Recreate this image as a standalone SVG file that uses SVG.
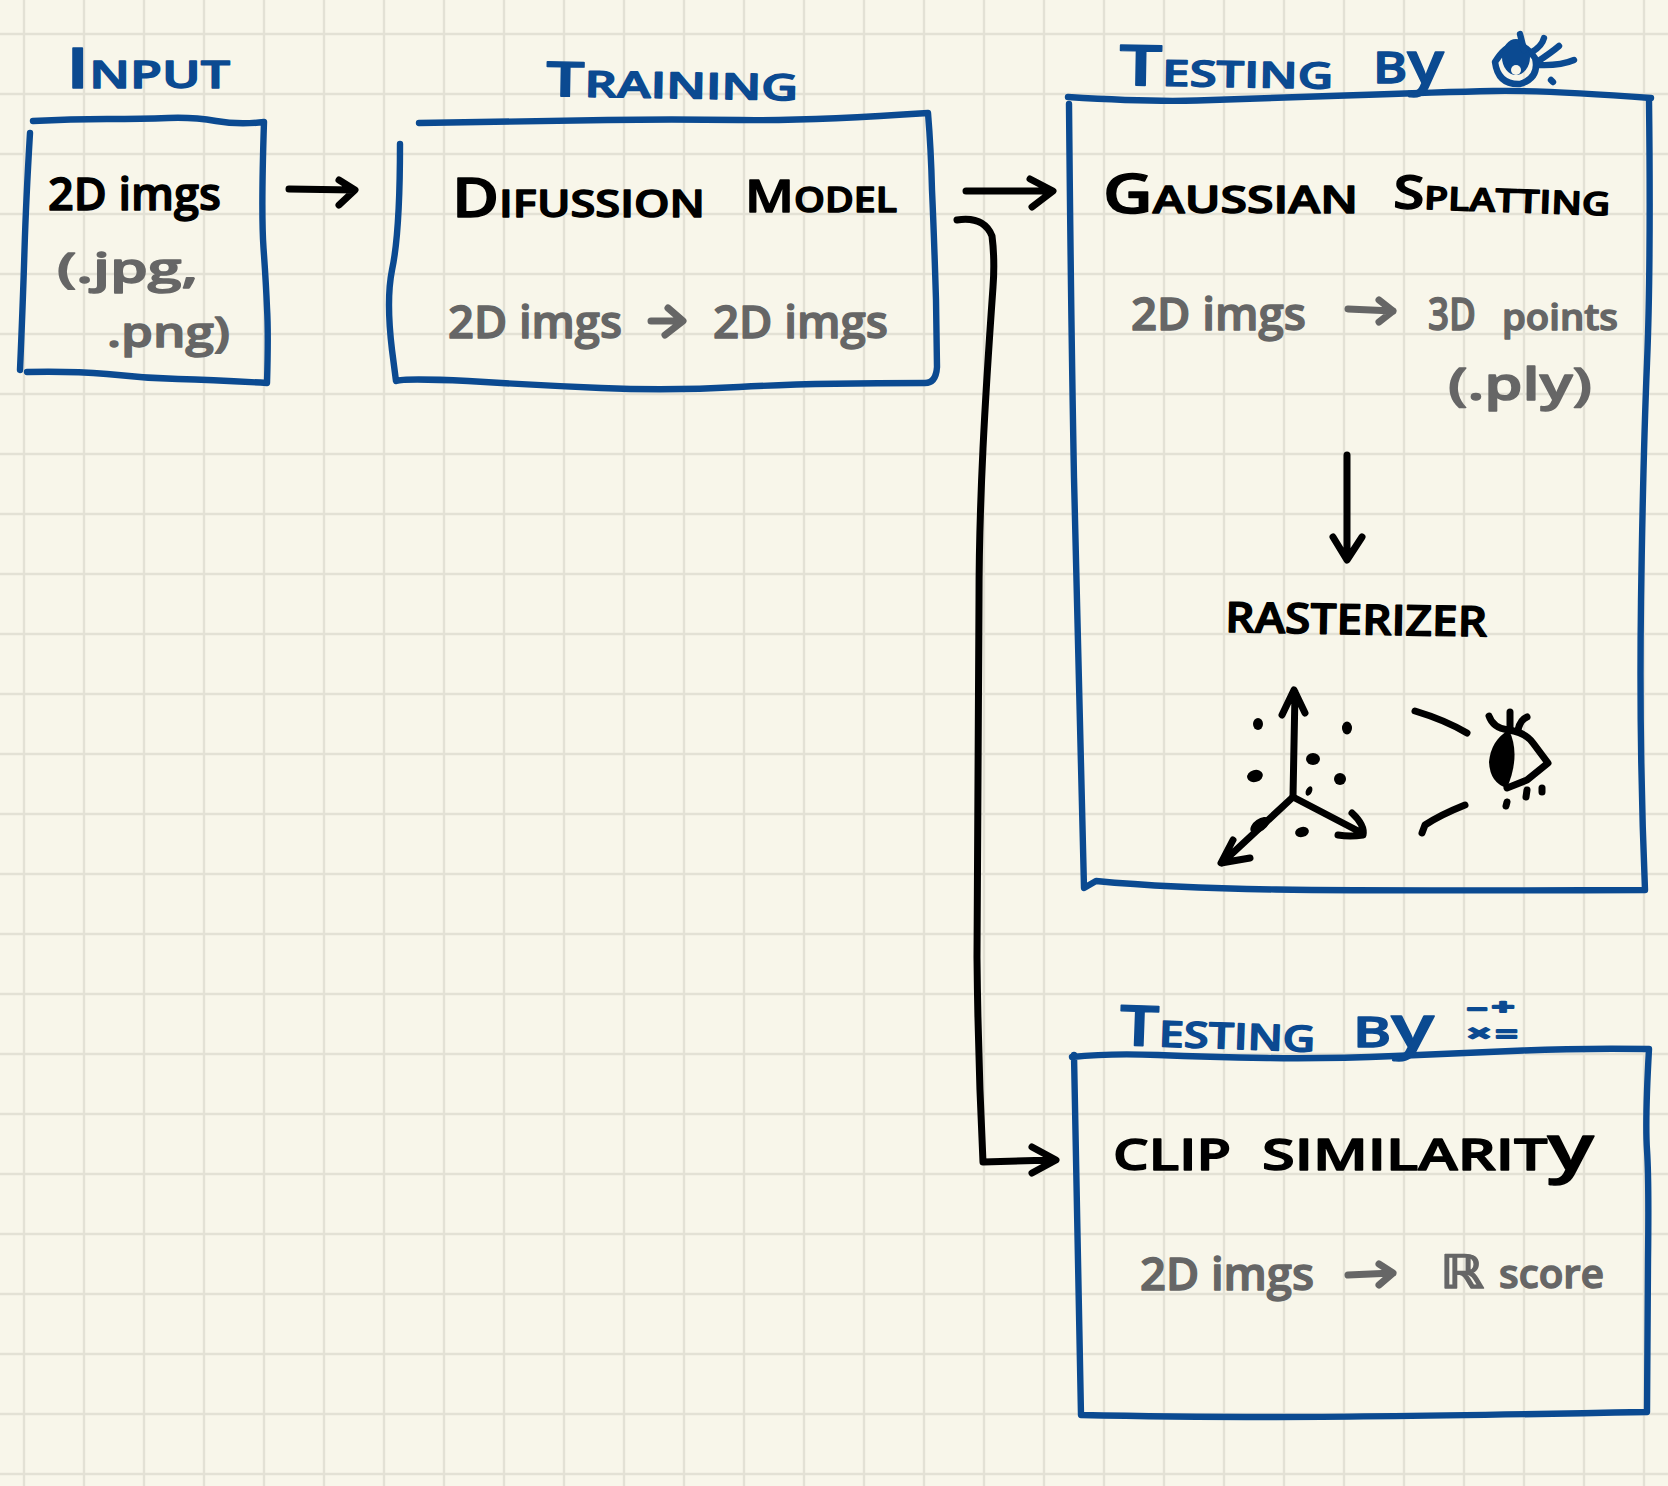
<svg xmlns="http://www.w3.org/2000/svg" width="1668" height="1486" viewBox="0 0 1668 1486">
<style>
.box{fill:none;stroke:#0b4a91;stroke-width:6.4;stroke-linecap:round;stroke-linejoin:round}
.ink{fill:none;stroke:#000;stroke-width:7;stroke-linecap:round;stroke-linejoin:round}
.grayline{fill:none;stroke:#666;stroke-width:7;stroke-linecap:round;stroke-linejoin:round}
text{font-family:"Open Sans","Liberation Sans",sans-serif;font-weight:600;stroke-width:1.4;stroke-linejoin:round}
.t{fill:#0b4a91;stroke:#0b4a91}
.k{fill:#000;stroke:#000}
.g{fill:#666;stroke:#666}
.m{font-family:"Liberation Sans",sans-serif;font-weight:700;font-size:20px;stroke-width:2}
.dot{fill:#000}
</style>
<defs>
<pattern id="grid" patternUnits="userSpaceOnUse" x="-6" y="4" width="60" height="60">
<path d="M30 0V60M0 30H60" fill="none" stroke="#e3e1d5" stroke-width="2.4"/>
</pattern>
</defs>
<rect width="1668" height="1486" fill="#f8f6ea"/>
<rect width="1668" height="1486" fill="url(#grid)"/>

<g id="input">
<path class="box" d="M33 121Q71 119 107 119Q143 119 168 118Q193 117 216 121Q239 125 264 122Q261 213 263.500 248Q266 283 267 308Q268.500 333 267 383Q214 380 178 379Q143 378 107 374Q71 371 27 372"/>
<path class="box" d="M30 133Q26 200 24.500 250Q23 300 20 370"/>
<text class="t" x="66" y="88" textLength="164" lengthAdjust="spacingAndGlyphs" font-size="38"><tspan font-size="56">I</tspan>NPUT</text>
<text class="k" x="48" y="210" textLength="173" lengthAdjust="spacingAndGlyphs" font-size="46">2D imgs</text>
<text class="g" x="57" y="283" textLength="141" lengthAdjust="spacingAndGlyphs" font-size="42">(.jpg,</text>
<text class="g" x="107" y="347" textLength="123" lengthAdjust="spacingAndGlyphs" font-size="42">.png)</text>
</g>

<g id="training">
<path class="box" d="M419 123Q545 121 607 120Q670 119 739 120Q808 121 928 113Q931 149 932 190Q934 234 936 300L937 367Q936 383 925 383Q808 383 739 387Q670 391 601 388Q532 385 468 381Q404 378 396 381L392 350Q386 300 392 270Q400 233 400 144"/>
<text class="t" x="546" y="96" textLength="252" lengthAdjust="spacingAndGlyphs" font-size="36" transform="rotate(1 546 96)"><tspan font-size="48">T</tspan>RAINING</text>
<text class="k" x="452" y="217" textLength="253" lengthAdjust="spacingAndGlyphs" font-size="38"><tspan font-size="54">D</tspan>IFUSSION</text>
<text class="k" x="745" y="212" textLength="152" lengthAdjust="spacingAndGlyphs" font-size="34"><tspan font-size="46">M</tspan>ODEL</text>
<text class="g" x="448" y="338" textLength="174" lengthAdjust="spacingAndGlyphs" font-size="46">2D imgs</text>
<path class="grayline" d="M651 321L681 321M668 308L683 321L665 335"/>
<text class="g" x="713" y="338" textLength="175" lengthAdjust="spacingAndGlyphs" font-size="46">2D imgs</text>
</g>

<g id="testing-eye">
<path class="box" d="M1068 97Q1148 102 1197 100.500Q1247 99 1345 95.500Q1444 92 1493 91Q1543 90 1651 98"/>
<path class="box" d="M1069 104Q1071 319 1074 478Q1077 638 1084 888L1096 881Q1170 888 1276 889.500Q1383 891 1645 890Q1639 745 1641 602Q1643 460 1647 363Q1651 267 1649 100"/>
<text class="t" x="1119" y="85" textLength="214" lengthAdjust="spacingAndGlyphs" font-size="36" transform="rotate(1 1119 85)"><tspan font-size="56">T</tspan>ESTING</text>
<text class="t" x="1373" y="83" textLength="71" lengthAdjust="spacingAndGlyphs" font-size="44">B<tspan font-size="58">y</tspan></text>
<g id="eye-icon">
<path class="box" d="M1495 62Q1515 30 1535 58Q1540 78 1520 84Q1498 85 1495 62Z"/>
<ellipse cx="1516" cy="57" rx="14" ry="18" fill="#0b4a91"/>
<ellipse cx="1516" cy="70" rx="5" ry="5" fill="#f8f6ea"/>
<path class="box" d="M1520 34L1524 50M1532 52Q1542 46 1544 38M1537 62Q1552 52 1559 46M1538 65Q1560 66 1574 60M1551 80L1553 82"/>
</g>
<text class="k" x="1103" y="213" textLength="255" lengthAdjust="spacingAndGlyphs" font-size="38"><tspan font-size="54">G</tspan>AUSSIAN</text>
<text class="k" x="1393" y="208" textLength="217" lengthAdjust="spacingAndGlyphs" font-size="32" transform="rotate(2 1393 208)"><tspan font-size="46">S</tspan>PLATTING</text>
<text class="g" x="1131" y="330" textLength="175" lengthAdjust="spacingAndGlyphs" font-size="46">2D imgs</text>
<path class="grayline" d="M1348 309L1393 311M1379 300L1393 311L1379 322"/>
<text class="g" x="1428" y="330" textLength="48" lengthAdjust="spacingAndGlyphs" font-size="46">3D</text>
<text class="g" x="1502" y="330" textLength="116" lengthAdjust="spacingAndGlyphs" font-size="36">points</text>
<text class="g" x="1448" y="400" textLength="144" lengthAdjust="spacingAndGlyphs" font-size="46">(.ply)</text>
<path class="ink" d="M1347 455L1347 558M1333 537L1347 560L1362 537"/>
<text class="k" x="1225" y="632" textLength="262" lengthAdjust="spacingAndGlyphs" font-size="42" transform="rotate(1 1225 632)">RASTERIZER</text>
<g id="rasterizer-sketch">
<path class="ink" d="M1293 797L1295 692M1282 715L1294 690L1305 713"/>
<path class="ink" d="M1293 797L1222 863M1233 840L1221 863L1250 858"/>
<path class="ink" d="M1293 797L1362 833M1352 813Q1365 825 1363 835Q1350 837 1338 835"/>
<ellipse class="dot" cx="1258" cy="724" rx="5" ry="6"/>
<ellipse class="dot" cx="1347" cy="728" rx="5" ry="6.500"/>
<ellipse class="dot" cx="1313" cy="759" rx="7" ry="6"/>
<ellipse class="dot" cx="1340" cy="779" rx="6" ry="6"/>
<ellipse class="dot" cx="1255" cy="776" rx="8" ry="6" transform="rotate(-15 1255 776)"/>
<ellipse class="dot" cx="1309" cy="791" rx="3" ry="5" transform="rotate(25 1309 791)"/>
<ellipse class="dot" cx="1260" cy="825" rx="11" ry="6" transform="rotate(-35 1260 825)"/>
<ellipse class="dot" cx="1302" cy="832" rx="7" ry="5" transform="rotate(-15 1302 832)"/>
<path class="ink" d="M1415 711Q1445 720 1467 733"/>
<path class="ink" d="M1465 805Q1440 815 1425 825L1422 833"/>
<path class="dot" d="M1509 730Q1521 755 1507 788Q1490 783 1489 762Q1491 740 1509 730Z"/>
<path class="ink" d="M1508 730Q1525 732 1533 743L1548 763L1527 780L1507 788"/>
<path class="ink" d="M1489 716Q1493 728 1508 730M1510 712L1510 730M1527 717Q1520 720 1518 730"/>
<path class="ink" d="M1507 802L1506 806M1527 790L1526 797" stroke-width="4"/>
<path class="ink" d="M1542 788L1542 792" stroke-width="2.500"/>
</g>
</g>

<g id="testing-math">
<path class="box" d="M1072 1057Q1109 1053 1158 1055Q1208 1057 1267 1058Q1326 1059 1395 1056Q1464 1053 1523 1050.500Q1582 1048 1649 1049Q1645 1120 1647 1150Q1649 1180 1648 1260L1647 1412Q1383 1417 1276 1417Q1170 1417 1081 1415Q1077 1170 1074 1055"/>
<text class="t" x="1119" y="1045" textLength="196" lengthAdjust="spacingAndGlyphs" font-size="36" transform="rotate(2 1119 1045)"><tspan font-size="56">T</tspan>ESTING</text>
<text class="t" x="1353" y="1047" textLength="81" lengthAdjust="spacingAndGlyphs" font-size="42">B<tspan font-size="58">y</tspan></text>
<text class="t m" x="1467" y="1016" textLength="20" lengthAdjust="spacingAndGlyphs">−</text>
<text class="t m" x="1492" y="1014" textLength="22" lengthAdjust="spacingAndGlyphs">+</text>
<text class="t m" x="1468" y="1040" textLength="22" lengthAdjust="spacingAndGlyphs">×</text>
<text class="t m" x="1496" y="1041" textLength="21" lengthAdjust="spacingAndGlyphs">=</text>
<text class="k" x="1113" y="1170" textLength="118" lengthAdjust="spacingAndGlyphs" font-size="44">CLIP</text>
<text class="k" x="1262" y="1170" textLength="332" lengthAdjust="spacingAndGlyphs" font-size="44">SIMILARIT<tspan font-size="64">y</tspan></text>
<text class="g" x="1140" y="1290" textLength="174" lengthAdjust="spacingAndGlyphs" font-size="46">2D imgs</text>
<path class="grayline" d="M1348 1275L1393 1273M1379 1264L1393 1273L1379 1285"/>
<text class="g" x="1440" y="1288" textLength="44" lengthAdjust="spacingAndGlyphs" font-size="46" style="font-family:'DejaVu Sans',sans-serif">ℝ</text>
<text class="g" x="1499" y="1288" textLength="105" lengthAdjust="spacingAndGlyphs" font-size="40">score</text>
</g>

<g id="connectors">
<path class="ink" d="M289 189L354 190M339 180L355 190L339 205"/>
<path class="ink" d="M966 191L1051 191M1030 179L1053 191L1032 207"/>
<path class="ink" d="M957 220Q984 216 992 236Q995 260 993 287C985 400 979 500 979 600L977 957Q978 1060 983 1162L1053 1160M1032 1147L1056 1160L1032 1173"/>
</g>
</svg>
